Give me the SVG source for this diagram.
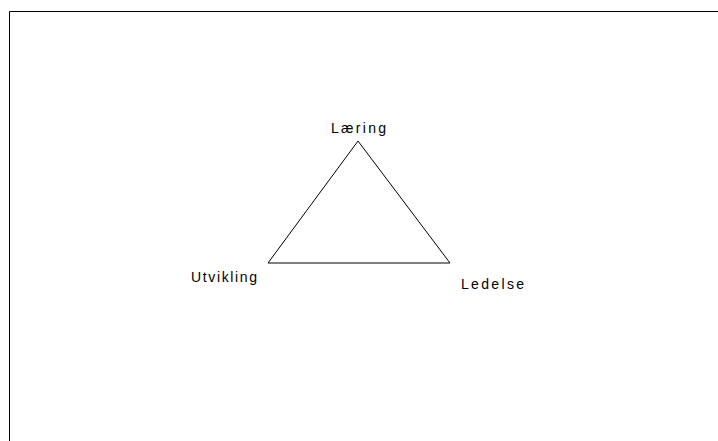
<svg xmlns="http://www.w3.org/2000/svg" width="718" height="441" viewBox="0 0 718 441">
<style>
text{font-family:"Liberation Sans",Arial,sans-serif;font-size:14px;fill:#000}
.ln{fill:none;stroke:#000;stroke-width:1}
</style>
<rect width="718" height="441" fill="#fff"/>
<path class="ln" d="M9.5,441 V11.5 H718"/>
<g id="triangle"><polygon class="ln" points="358,141 268,263 450,263"/></g>
<g id="laering"><text x="331" y="133" textLength="55" lengthAdjust="spacing">Læring</text></g>
<g id="utvikling"><text x="191" y="282" textLength="66" lengthAdjust="spacing">Utvikling</text></g>
<g id="ledelse"><text x="461" y="289" textLength="63" lengthAdjust="spacing">Ledelse</text></g>
</svg>
